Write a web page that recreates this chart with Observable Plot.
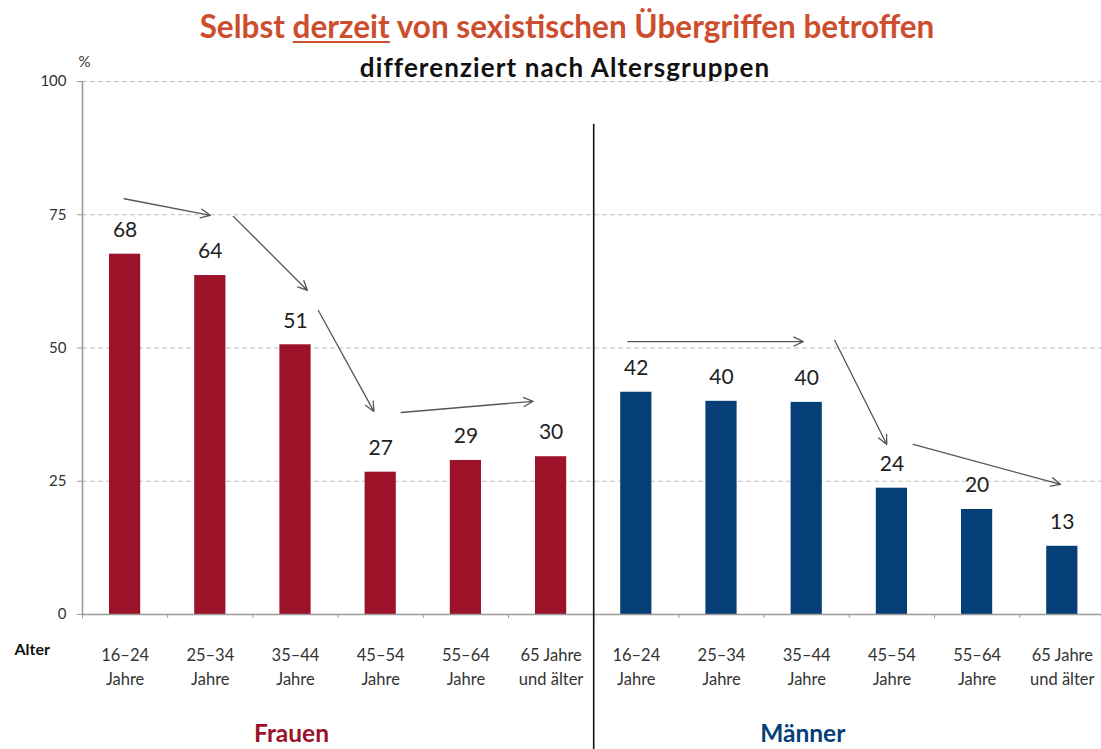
<!DOCTYPE html>
<html>
<head>
<meta charset="utf-8">
<script src="https://cdn.jsdelivr.net/npm/d3@7"></script>
<script src="https://cdn.jsdelivr.net/npm/@observablehq/plot@0.6"></script>
<style>
  body { margin: 0; background: #fff; font-family: Lato, "Open Sans", sans-serif; }
  #wrap { position: relative; width: 1101px; height: 749px; overflow: hidden; }
  #title { position: absolute; top: 11px; left: 0; width: 1134px; text-align: center;
           font-weight: bold; font-size: 31.5px; line-height: 1; color: #cc4e2e; }
  #title u { text-decoration-thickness: 2px; text-underline-offset: 3px; }
  #subtitle { position: absolute; top: 54px; left: 0; width: 1130px; text-align: center;
              font-weight: bold; font-size: 26px; line-height: 1; color: #111; letter-spacing: 1.1px; }
  #chart { position: absolute; top: 0; left: 0; }
</style>
</head>
<body>
<div id="wrap">
  <div id="chart"></div>
  <div id="title">Selbst <u>derzeit</u> von sexistischen Übergriffen betroffen</div>
  <div id="subtitle">differenziert nach Altersgruppen</div>
</div>
<script>
// ---- data ----
const ageGroups = ["16–24\nJahre", "25–34\nJahre", "35–44\nJahre", "45–54\nJahre", "55–64\nJahre", "65 Jahre\nund älter"];
const genders = ["Frauen", "Männer"];
const frauenValues = [67.6, 63.6, 50.6, 26.7, 28.9, 29.6];
const maennerValues = [41.7, 40.0, 39.8, 23.7, 19.7, 12.8];
const frauenLabels = [68, 64, 51, 27, 29, 30];
const maennerLabels = [42, 40, 40, 24, 20, 13];
const yTicks = [0, 25, 50, 75, 100];
const genderColors = ["#9b1229", "#063f78"];
// trend arrows: positions in category units (0..12) and %
const trendArrows = [
  {x1: 0.49, y1: 78.0, x2: 1.50, y2: 74.9},
  {x1: 1.77, y1: 74.7, x2: 2.64, y2: 60.8},
  {x1: 2.77, y1: 57.0, x2: 3.42, y2: 38.1},
  {x1: 3.74, y1: 37.9, x2: 5.29, y2: 40.0},
  {x1: 6.40, y1: 51.2, x2: 8.46, y2: 51.2},
  {x1: 8.83, y1: 51.4, x2: 9.44, y2: 31.9},
  {x1: 9.75, y1: 31.9, x2: 11.48, y2: 24.4}
];

const valuesByGender = [frauenValues, maennerValues];
const labelsByGender = [frauenLabels, maennerLabels];
const rows = genders.flatMap((g, gi) => ageGroups.map((a, ai) => ({
  gender: g, age: a, pos: gi * ageGroups.length + ai,
  value: valuesByGender[gi][ai], label: labelsByGender[gi][ai]
})));
const n = rows.length;

const chart = Plot.plot({
  width: 1101,
  height: 749,
  marginLeft: 82,
  marginRight: 0,
  marginTop: 81,
  marginBottom: 135,
  x: {domain: [0, 11.96]},
  y: {domain: [0, 100]},
  color: {domain: genders, range: genderColors},
  style: {fontFamily: "Lato, 'Open Sans', sans-serif", background: "white"},
  marks: [
    Plot.gridY(yTicks, {stroke: "#c4c4c4", strokeOpacity: 1, strokeDasharray: "5,3", strokeWidth: 1.2}),
    Plot.rectY(rows, {x1: "pos", x2: d => d.pos + 1, y: "value", fill: "gender", insetLeft: 27, insetRight: 27}),
    Plot.ruleY([0], {stroke: "#9a9a9a", strokeWidth: 1.6}),
    Plot.ruleX([0], {y1: 0, y2: 100, stroke: "#9a9a9a", strokeWidth: 1.6}),
    Plot.axisY({ticks: yTicks, tickSize: 5, tickFormat: () => "", stroke: "#9a9a9a", label: null}),
    Plot.axisY({ticks: yTicks, tickSize: 0, tickPadding: 16, fontSize: 15, fill: "#333", label: null}),
    Plot.axisX({ticks: d3.range(0, n + 1), tickSize: 4, tickFormat: () => "", stroke: "#9a9a9a", label: null}),
    Plot.text(["%"], {frameAnchor: "top-left", dx: -4, dy: -25, fontSize: 15, fill: "#333"}),
    Plot.text(rows, {x: d => d.pos + 0.5, y: "value", text: d => String(d.label), dy: -24, fontSize: 21, fill: "#222"}),
    Plot.text(rows, {x: d => d.pos + 0.5, y: 0, text: "age", dy: 51, lineAnchor: "middle", lineHeight: 1.45, fontSize: 16.5, fill: "#333"}),
    Plot.text(["Alter"], {frameAnchor: "bottom-left", dx: -68, dy: 40, textAnchor: "start", fontWeight: "bold", fontSize: 16, fill: "#111"}),
    Plot.text(genders, {x: (d, i) => i * ageGroups.length + 2.5, y: 0, dx: -4, dy: 120, text: d => d, fill: d => d, fontWeight: "bold", fontSize: 24.5}),
    Plot.ruleX([ageGroups.length], {y1: 92, y2: -26, stroke: "#111", strokeWidth: 1.6}),
    Plot.arrow(trendArrows, {x1: "x1", y1: "y1", x2: "x2", y2: "y2", stroke: "#555", strokeWidth: 1.3, headLength: 12, headAngle: 50})
  ]
});
document.getElementById("chart").appendChild(chart);
</script>
</body>
</html>
